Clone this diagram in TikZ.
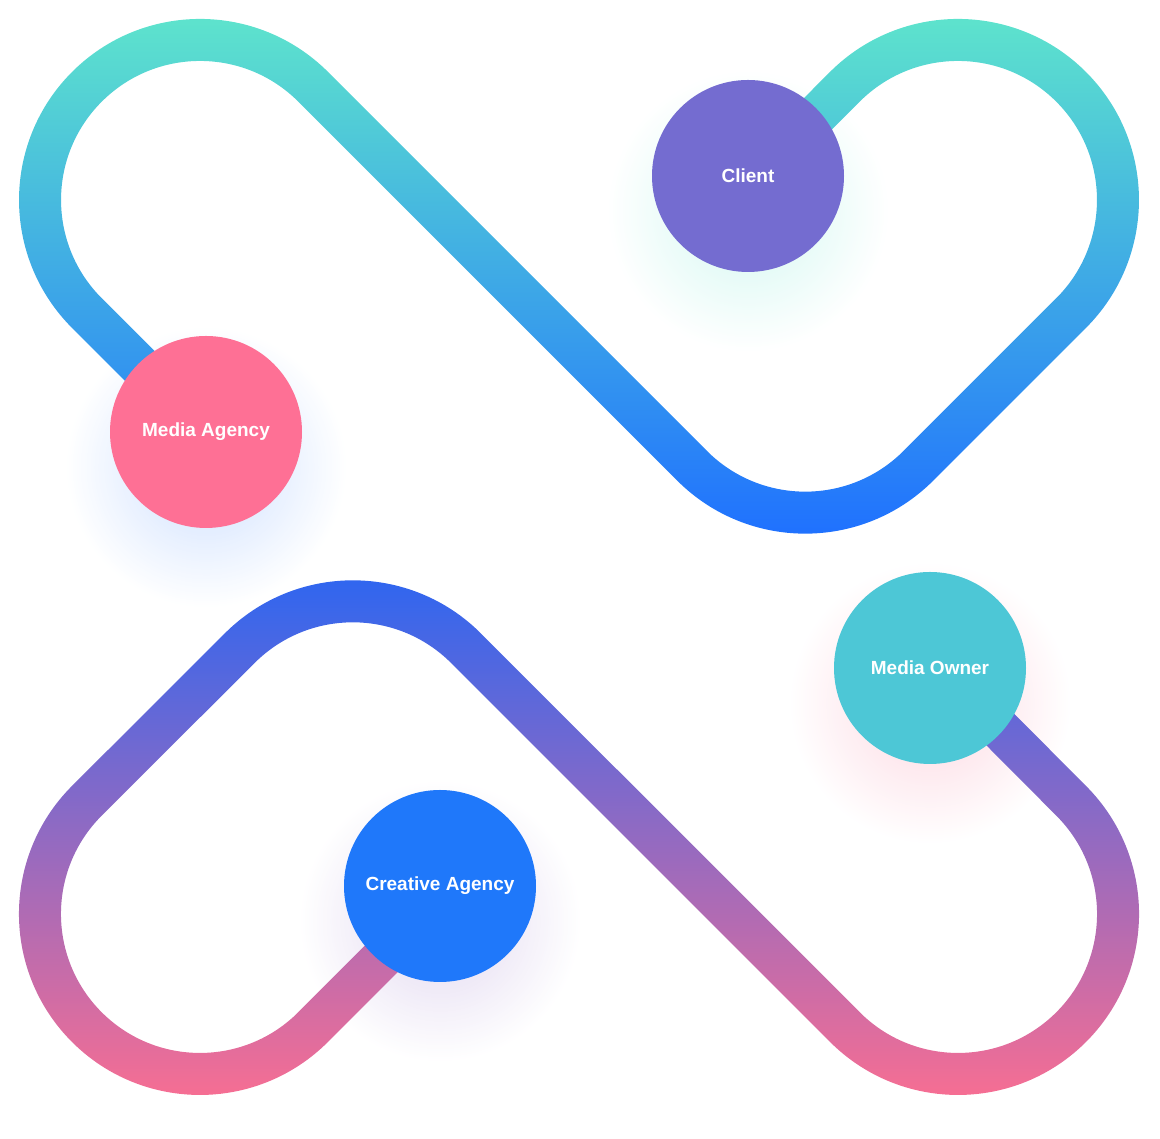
\documentclass[tikz,border=0pt]{standalone}
\usepackage{fontspec}
\setmainfont{Liberation Sans}
\usetikzlibrary{fadings}

% Cores
\definecolor{clientc}{HTML}{746CD0}
\definecolor{agencyc}{HTML}{FE7095}
\definecolor{ownerc}{HTML}{4DC7D6}
\definecolor{creativec}{HTML}{1F78FA}
\definecolor{upperA}{HTML}{5EE4CC}
\definecolor{upperB}{HTML}{41AEE0}
\definecolor{upperC}{HTML}{1F70FF}
\definecolor{lowerA}{HTML}{2E66F0}
\definecolor{lowerB}{HTML}{9470C8}
\definecolor{lowerC}{HTML}{F86E92}

\tikzset{x=1pt, y=1pt}

% Trilhas (raio das curvas = 160)
\def\rr{160}
\def\uppertrack{(206,707) -- (86.9,825.9) arc[start angle=225, end angle=45, radius=\rr]
  -- (692.1,673.2) arc[start angle=225, end angle=315, radius=\rr]
  -- (1071.1,825.9) arc[start angle=-45, end angle=135, radius=\rr] -- (740,947)}
\def\lowertrack{(430,229) -- (313.1,111.9) arc[start angle=-45, end angle=-225, radius=\rr]
  -- (239.7,490.8) arc[start angle=135, end angle=45, radius=\rr]
  -- (844.9,111.9) arc[start angle=225, end angle=405, radius=\rr] -- (940,470)}

\begin{tikzfadingfrompicture}[name=upperfade]
  \path (0,0) rectangle (1160,1139);
  \draw[white, line width=42] \uppertrack;
\end{tikzfadingfrompicture}

\begin{tikzfadingfrompicture}[name=lowerfade]
  \path (0,0) rectangle (1160,1139);
  \draw[white, line width=42] \lowertrack;
\end{tikzfadingfrompicture}

\tikzfading[name=glow, inner color=transparent!72, outer color=transparent!100]

\tikzset{
  hub/.style={circle, minimum size=192, inner sep=0, text=white,
    font=\bfseries\fontsize{19}{19}\selectfont},
  glow/.style={path fading=glow}
}

\begin{document}
\begin{tikzpicture}

  \useasboundingbox (0,0) rectangle (1160,1139);

  % Sombras
  \fill[upperA, glow]           (748,928) circle (140);
  \fill[upperC!80, glow]        (206,672) circle (140);
  \fill[lowerC, glow]           (930,436) circle (140);
  \fill[lowerB, glow]           (440,218) circle (140);

  % Trilha de cima
  \shade[top color=upperA, middle color=upperB, bottom color=upperC,
    path fading=upperfade, fit fading=false,
    fading transform={shift={(580,569.5)}}] (0,600) rectangle (1160,1126);

  % Trilha de baixo
  \shade[top color=lowerA, middle color=lowerB, bottom color=lowerC,
    path fading=lowerfade, fit fading=false,
    fading transform={shift={(580,569.5)}}] (0,38) rectangle (1160,564);

  % Círculos
  \node[hub, fill=clientc]   (client)   at (748,963) {Client};
  \node[hub, fill=agencyc]   (agency)   at (206,707) {Media Agency};
  \node[hub, fill=ownerc]    (owner)    at (930,471) {Media Owner};
  \node[hub, fill=creativec] (creative) at (440,253) {Creative Agency};

\end{tikzpicture}
\end{document}
